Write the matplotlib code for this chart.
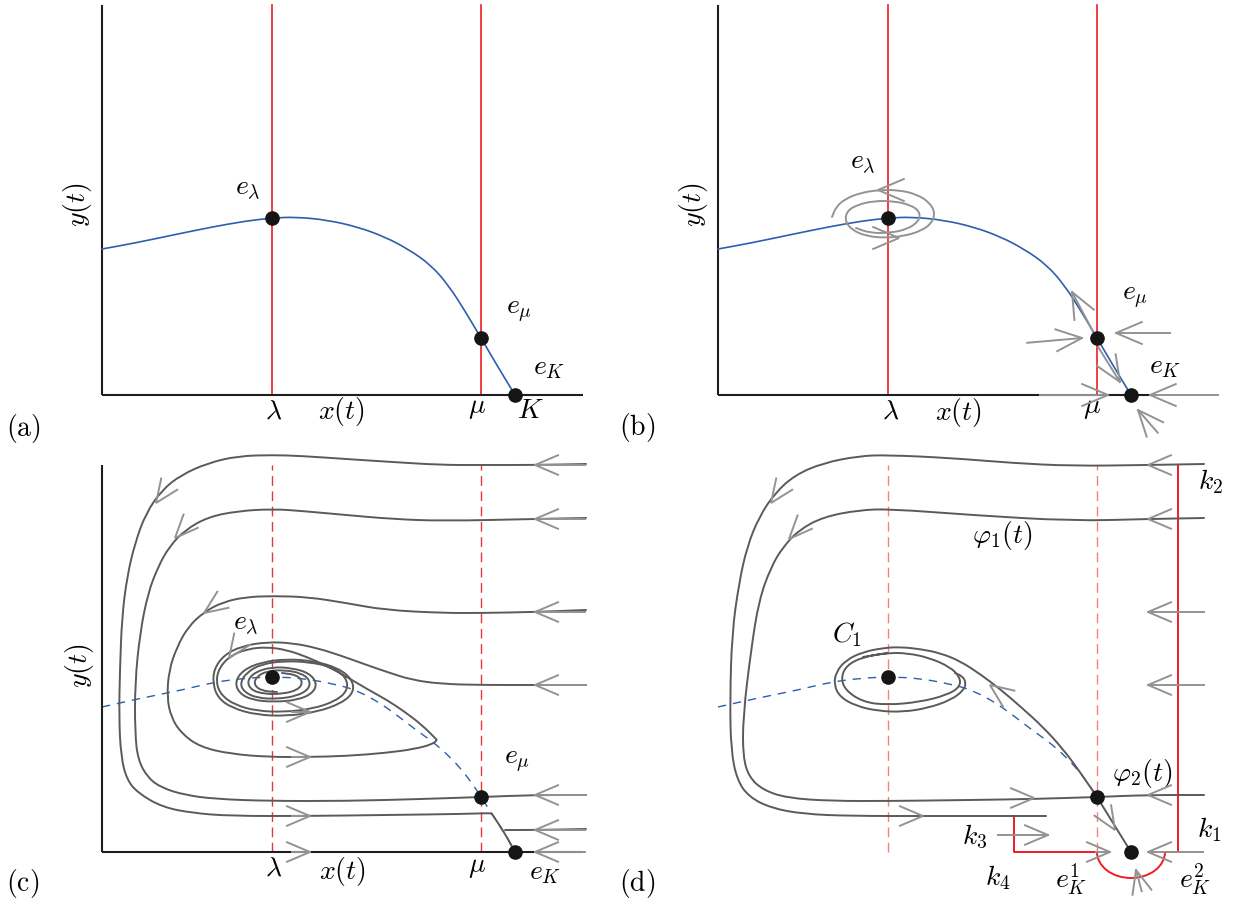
import numpy as np
import matplotlib
matplotlib.use("Agg")
import matplotlib.pyplot as plt
from matplotlib.patches import Arc, PathPatch
from matplotlib.path import Path

plt.rcParams['mathtext.fontset'] = 'cm'
plt.rcParams['font.family'] = ['DejaVu Serif']

# ---------------- data (panel coordinates: origin at the axes corner) ----------------
LAM, MU, K = 170, 379, 413
Y_LAM, Y_MU = 177, 57
X_END, Y_TOP = 481, 390

# prey nullcline, panels (a),(b)
NULL_AB = [(0, 146), (33, 152), (71, 160), (110, 168), (144, 174), (170, 177), (194, 178),
           (225, 175), (256, 168), (283, 158), (306, 146), (329, 130), (347, 109),
           (363, 84), (379, 57), (396, 28), (413, 0)]
# prey nullcline, panels (c),(d)
NULL_CD = [(0, 145), (40, 154), (80, 162), (113, 170), (145, 174), (170, 175), (200, 174),
           (237, 167), (256, 161), (278, 149), (296, 136), (314, 122), (331, 110),
           (346, 97), (360, 82), (372, 66), (379, 55), (390, 38), (402, 20), (413, 0)]

# (b) local spiral around e_lambda
B_SPIRAL = [(114, 178), (118, 188), (127, 196), (142, 202), (160, 205), (180, 205), (198, 201),
            (211, 193), (217, 183), (214, 172), (203, 164), (186, 159), (167, 157), (148, 159),
            (134, 165), (127, 174), (129, 184), (139, 190), (155, 194), (175, 194), (193, 190),
            (202, 183), (201, 174), (190, 166), (172, 162), (152, 162), (138, 167)]
# (b) arrows: x, y, direction (deg), shaft length
B_ARROWS = [(160, 205, 180, 0), (181, 157, 0, 0), (364, 57, 5, 55), (398, 62, 180, 54),
            (354, 103, 118, 45), (402, 13, -58, 41), (390, 0, 0, 68), (432, 0, 180, 68),
            (420, -15, 131, 30)]

# (c) trajectories
C_OUTER = [(484, 388), (433, 387), (380, 387), (340, 387), (290, 390), (244, 393), (200, 396),
           (171, 397), (136, 396), (106, 389), (79, 377), (60, 362), (44, 339), (33, 309),
           (25, 275), (20, 235), (18, 185), (17, 135), (19, 95), (25, 72), (36, 59), (60, 45),
           (90, 39), (129, 36), (206, 36), (283, 37), (360, 38), (389, 39), (390, 38),
           (398, 26), (406, 13), (413, 0)]
C_INNER = [(484, 334), (433, 333), (340, 331), (290, 333), (244, 337), (200, 341), (171, 343),
           (136, 341), (106, 335), (83, 322), (67, 305), (56, 285), (46, 259), (38, 219),
           (33, 169), (33, 119), (36, 92), (46, 74), (60, 64), (83, 57), (113, 53), (167, 51),
           (244, 51), (321, 53), (379, 55)]
C_MID = [(484, 242), (433, 240), (380, 239), (340, 239), (283, 242), (244, 249), (206, 255),
         (171, 256), (144, 255), (121, 250), (102, 240), (86, 225), (75, 205), (67, 182),
         (65, 155), (69, 135), (79, 119), (98, 105), (129, 98), (167, 95), (206, 95),
         (244, 96), (283, 99), (313, 103), (331, 108), (335, 112), (334, 113), (320, 127),
         (303, 140), (285, 152), (265, 163), (245, 175), (225, 186), (205, 195), (185, 202),
         (165, 205), (145, 203), (128, 196), (117, 184), (114, 170), (119, 157), (133, 147),
         (155, 141), (182, 140), (210, 143), (234, 151), (246, 162), (244, 175), (230, 185),
         (207, 190), (182, 191), (160, 188), (145, 180), (138, 169), (142, 160), (155, 154),
         (175, 153), (195, 156), (207, 163), (208, 172), (199, 179), (182, 182), (165, 181),
         (154, 175), (152, 167), (160, 161), (175, 160)]
C_SPIRAL = [(484, 167), (433, 167), (380, 167), (340, 168), (310, 172), (285, 180), (262, 188),
            (240, 196), (215, 204), (190, 209), (165, 210), (140, 206), (122, 197), (112, 183),
            (111, 168), (116, 154), (130, 144), (155, 137), (185, 136), (215, 140), (240, 149),
            (252, 160), (250, 173), (236, 184), (212, 191), (185, 193), (160, 190), (141, 182),
            (133, 170), (137, 159), (150, 152), (172, 150), (196, 152), (211, 159), (215, 169),
            (207, 179), (190, 184), (170, 185), (153, 180), (145, 171), (149, 162), (162, 158),
            (180, 158), (196, 162), (201, 170), (195, 177), (180, 179)]
C_TO_EMU = [(484, 57), (433, 57), (379, 55)]
C_LOW = [(484, 23), (433, 22), (403, 22)]
C_ARROWS = [(433, 387, 180, 50), (433, 333, 180, 50), (433, 240, 180, 50), (433, 167, 180, 50),
            (433, 57, 180, 50), (433, 22, 180, 50), (433, 0, 180, 50),
            (208, 140, 0, 18), (208, 95, 0, 18), (208, 36, 0, 18), (208, 0, 0, 18),
            (54, 349, -125, 0), (73, 314, -133, 0), (102, 239, -145, 0), (127, 194, -125, 0)]

# (d) trajectories
D_OUTER = [(486, 388), (430, 387), (354, 386), (294, 389), (233, 394), (169, 397), (141, 396),
           (105, 389), (77, 377), (57, 359), (41, 335), (29, 305), (21, 269), (14, 219),
           (12, 152), (13, 102), (19, 72), (31, 55), (53, 44), (85, 38), (133, 36), (213, 36),
           (294, 36), (328, 36)]
D_INNER = [(486, 334), (430, 333), (354, 331), (253, 337), (173, 343), (141, 342), (105, 335),
           (81, 322), (65, 305), (53, 285), (41, 252), (33, 202), (25, 135), (25, 95), (31, 75),
           (45, 62), (69, 54), (113, 51), (173, 51), (253, 52), (316, 53), (379, 55)]
D_TO_EMU = [(486, 57), (430, 57), (379, 55)]
D_EMU_EK = [(379, 55), (413, 0)]
D_PHI2 = [(379, 55), (362, 80), (345, 103), (325, 125), (303, 145), (282, 163), (262, 178),
          (242, 191), (222, 199), (202, 203), (182, 205), (165, 204), (145, 200), (128, 192),
          (118, 180), (116, 167), (122, 155), (138, 146), (160, 141), (185, 140), (210, 144),
          (233, 152), (246, 162), (248, 170), (244, 176), (237, 179)]
D_C1 = [(169, 199), (145, 195), (129, 187), (123, 175), (127, 162), (145, 150), (169, 147),
        (202, 150), (229, 157), (242, 165), (242, 175), (232, 185), (212, 194), (189, 199),
        (169, 199), (145, 195)]
D_RED_LEFT = [(296, 36), (296, 0), (379, 0)]
D_RED_RIGHT = [(447, 0), (460, 0), (460, 387)]
D_ARROWS = [(430, 387, 180, 0), (430, 333, 180, 0), (430, 240, 180, 56), (430, 167, 180, 56),
            (430, 57, 180, 0), (430, 0, 180, 55), (205, 36, 0, 0), (316, 54, 0, 0),
            (330, 17, 0, 50), (392, 0, 0, 14), (418, -18, 105, 22), (397, 22, -58, 0),
            (272, 167, 144, 0), (53, 349, -125, 0), (71, 313, -133, 0)]

# ---------------- styles ----------------
AX_C = '#1e1e1e'
RED = '#ee1d23'
RED_D = '#e8383d'
RED_L = '#f28080'
BLUE = '#2c5fae'
TRAJ = '#5a5a5a'
ARR = '#939393'
FS = 20

W, H = 1236, 906
fig = plt.figure(figsize=(W / 100, H / 100), dpi=100)
XL, XR, YB, YT = -100, 515, -52, 400
ORIGINS = {'a': (102, 395), 'b': (718, 395), 'c': (102, 852), 'd': (718, 852)}


def make_ax(key):
    ox, oy = ORIGINS[key]
    left = (ox + XL) / W
    bottom = (H - (oy - YB)) / H
    ax = fig.add_axes([left, bottom, (XR - XL) / W, (YT - YB) / H])
    ax.set_xlim(XL, XR)
    ax.set_ylim(YB, YT)
    ax.axis('off')
    ax.patch.set_alpha(0)
    return ax


def xy(pts):
    a = np.asarray(pts, float)
    return a[:, 0], a[:, 1]


def smooth(ax, pts, color, lw, zorder, dashes=None):
    """Quadratic B-spline path with the listed points as control points."""
    p = np.asarray(pts, float)
    if len(p) < 3:
        verts, codes = [p[0], p[-1]], [Path.MOVETO, Path.LINETO]
    else:
        mids = (p[:-1] + p[1:]) / 2
        verts = [p[0], mids[0]]
        codes = [Path.MOVETO, Path.LINETO]
        for i in range(1, len(p) - 1):
            verts += [p[i], mids[i]]
            codes += [Path.CURVE3, Path.CURVE3]
        verts.append(p[-1])
        codes.append(Path.LINETO)
    patch = PathPatch(Path(verts, codes), fill=False, edgecolor=color, lw=lw,
                      zorder=zorder, capstyle='round', joinstyle='round', clip_on=False)
    if dashes is not None:
        patch.set_linestyle((0, dashes))
        patch.set_capstyle('butt')
    ax.add_patch(patch)


def arrows(ax, specs, arm=25, half=23, lw=1.4):
    for (x, y, ang, shaft) in specs:
        a = np.deg2rad(ang)
        h = np.deg2rad(half)
        b1, b2 = a + np.pi + h, a + np.pi - h
        ax.plot([x + arm * np.cos(b1), x, x + arm * np.cos(b2)],
                [y + arm * np.sin(b1), y, y + arm * np.sin(b2)],
                color=ARR, lw=lw, zorder=6, solid_joinstyle='miter', clip_on=False)
        if shaft:
            ax.plot([x, x - shaft * np.cos(a)], [y, y - shaft * np.sin(a)],
                    color=ARR, lw=lw, zorder=6, clip_on=False)


def dot(ax, x, y):
    ax.plot([x], [y], 'o', color='#151515', ms=9.5, zorder=10, clip_on=False)


def txt(ax, s, x, y, **kw):
    ax.text(x, y, s, fontsize=FS, ha='center', va='center', clip_on=False, **kw)


def frame(ax, xend, ytop=Y_TOP):
    ax.plot([0, 0], [0, ytop], color=AX_C, lw=1.5, zorder=3, solid_capstyle='butt')
    ax.plot([0, xend], [0, 0], color=AX_C, lw=1.5, zorder=3, solid_capstyle='butt')


# ---------------- (a) ----------------
ax = make_ax('a')
frame(ax, X_END)
for xv in (LAM, MU):
    ax.plot([xv, xv], [0, Y_TOP], color=RED, lw=1.2, zorder=2)
smooth(ax, NULL_AB, BLUE, 1.2, 4)
dot(ax, LAM, Y_LAM); dot(ax, MU, Y_MU); dot(ax, K, 0)
txt(ax, r'$e_\lambda$', 146, 206)
txt(ax, r'$e_\mu$', 417, 84)
txt(ax, r'$e_K$', 447, 27)
txt(ax, r'$\lambda$', 172, -16)
txt(ax, r'$x(t)$', 239, -17)
txt(ax, r'$\mu$', 375, -13)
txt(ax, r'$K$', 428, -16)
txt(ax, r'$\mathrm{(a)}$', -79, -34)
txt(ax, r'$y(t)$', -24, 190, rotation=90)

# ---------------- (b) ----------------
ax = make_ax('b')
frame(ax, 434)
for xv in (LAM, MU):
    ax.plot([xv, xv], [0, Y_TOP], color=RED, lw=1.2, zorder=2)
smooth(ax, NULL_AB, BLUE, 1.2, 4)
smooth(ax, B_SPIRAL, ARR, 1.4, 5)
arrows(ax, B_ARROWS, arm=28)
dot(ax, LAM, Y_LAM); dot(ax, MU, Y_MU); dot(ax, K, 0)
txt(ax, r'$e_\lambda$', 145, 232)
txt(ax, r'$e_\mu$', 417, 98)
txt(ax, r'$e_K$', 447, 28)
txt(ax, r'$\lambda$', 173, -16)
txt(ax, r'$x(t)$', 240, -18)
txt(ax, r'$\mu$', 374, -13)
txt(ax, r'$\mathrm{(b)}$', -81, -33)
txt(ax, r'$y(t)$', -25, 190, rotation=90)

# ---------------- (c) ----------------
ax = make_ax('c')
frame(ax, X_END, 387)
for xv in (LAM, MU):
    ax.plot([xv, xv], [0, 387], color=RED_D, lw=1.0, dashes=(7, 4), zorder=2)
smooth(ax, NULL_CD, BLUE, 1.0, 2, dashes=(6, 5))
for tr in (C_OUTER, C_INNER, C_MID, C_SPIRAL, C_TO_EMU, C_LOW):
    smooth(ax, tr, TRAJ, 1.4, 4)
arrows(ax, C_ARROWS)
dot(ax, LAM, 175); dot(ax, MU, 55); dot(ax, K, 0)
txt(ax, r'$e_\lambda$', 144, 229)
txt(ax, r'$e_\mu$', 415, 92)
txt(ax, r'$e_K$', 443, -21)
txt(ax, r'$\lambda$', 172, -16)
txt(ax, r'$x(t)$', 240, -20)
txt(ax, r'$\mu$', 375, -15)
txt(ax, r'$\mathrm{(c)}$', -79, -31)
txt(ax, r'$y(t)$', -23, 186, rotation=90)

# ---------------- (d) ----------------
ax = make_ax('d')
for xv in (LAM, MU):
    ax.plot([xv, xv], [0, 387], color=RED_L, lw=1.0, dashes=(7, 4), zorder=2)
smooth(ax, [p for p in NULL_CD if p[0] <= MU], BLUE, 1.0, 2, dashes=(6, 5))
for tr in (D_OUTER, D_INNER, D_TO_EMU, D_EMU_EK, D_PHI2, D_C1):
    smooth(ax, tr, TRAJ, 1.4, 4)
x, y = xy(D_RED_LEFT)
ax.plot(x, y, color=RED, lw=1.4, zorder=3)
x, y = xy(D_RED_RIGHT)
ax.plot(x, y, color=RED, lw=1.4, zorder=3)
ax.add_patch(Arc((K, 0), 68, 52, theta1=180, theta2=360, color=RED, lw=1.4, zorder=3))
arrows(ax, D_ARROWS)
dot(ax, LAM, 175); dot(ax, MU, 55); dot(ax, K, 0)
txt(ax, r'$k_2$', 493, 370)
txt(ax, r'$\varphi_1(t)$', 284, 317)
txt(ax, r'$C_1$', 129, 217)
txt(ax, r'$\varphi_2(t)$', 424, 78)
txt(ax, r'$k_1$', 491, 22)
txt(ax, r'$k_3$', 257, 15)
txt(ax, r'$k_4$', 280, -26)
txt(ax, r'$e_K^1$', 353, -27)
txt(ax, r'$e_K^2$', 477, -27)
txt(ax, r'$\mathrm{(d)}$', -81, -31)

fig.savefig('out.png', dpi=100)
